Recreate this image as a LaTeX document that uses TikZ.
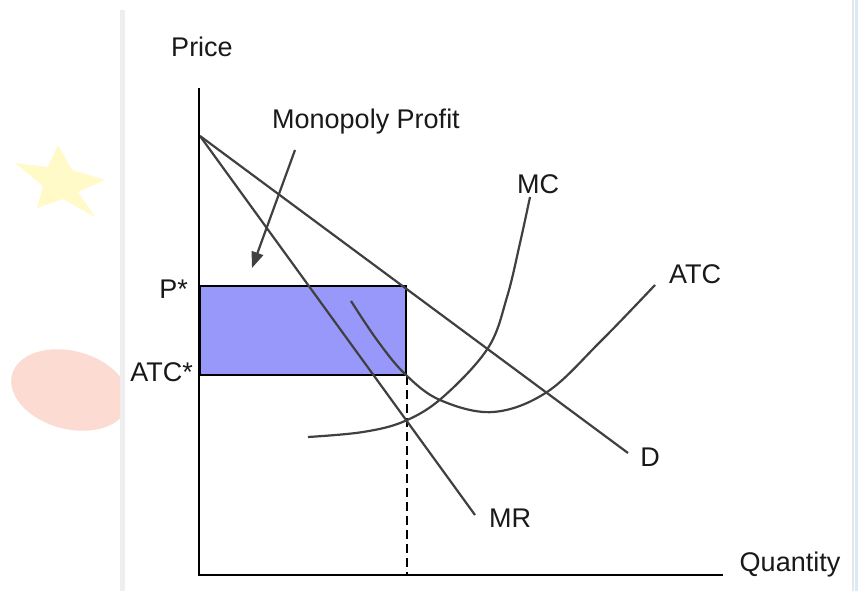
\documentclass[tikz,border=0pt]{standalone}
\usepackage{fontspec}
\setmainfont{Liberation Sans}
\usetikzlibrary{arrows.meta,positioning}

\definecolor{profitblue}{RGB}{152,152,250}
\definecolor{staryellow}{RGB}{255,250,200}
\definecolor{blush}{RGB}{252,219,210}
\definecolor{stripgray}{RGB}{238,238,238}
\definecolor{edgeblue}{RGB}{214,234,248}

\begin{document}
\begin{tikzpicture}[
    x=1pt,
    y=-1pt,
    font=\fontsize{27}{31}\selectfont,
    axis/.style={
        draw=black,
        line width=2.2pt
    },
    curve/.style={
        draw=black!75,
        line width=2.2pt
    },
    lbl/.style={
        inner sep=0pt,
        text=black!90
    },
    profit/.style={
        draw=black,
        line width=2pt,
        fill=profitblue,
        inner sep=0pt,
        anchor=north west
    },
    guide/.style={
        draw=black,
        line width=1.8pt,
        dash pattern=on 9pt off 5pt
    },
    pointer/.style={
        -{Triangle[length=16pt,width=12pt]},
        draw=black!75,
        line width=2.2pt
    }
]

% Page and background decoration
\useasboundingbox (0,0) rectangle (858,591);
\fill[white] (0,0) rectangle (858,591);
\fill[staryellow]
    (58,145) -- (72,170) -- (105,180) -- (78,192) -- (95,217)
    -- (63,199) -- (37,208) -- (43,186) -- (15,163) -- (48,167) -- cycle;
\begin{scope}
    \clip (0,300) rectangle (120,480);
    \fill[blush, rotate around={-15:(70,390)}]
        (70,390) ellipse [x radius=60, y radius=39];
\end{scope}
\fill[stripgray] (120,10) rectangle (125,591);
\fill[black!10] (852,0) rectangle (854,591);
\fill[edgeblue] (855,0) rectangle (858,591);

% Profit rectangle
\node[profit, minimum width=206pt, minimum height=89pt] (profit) at (199,285) {};
\coordinate (O) at (199,575);
\draw[guide] (profit.south east) -- (profit.south east |- O);

% Demand and marginal revenue
\coordinate (A) at (200,136);
\coordinate (Dend) at (628,453);
\coordinate (MRend) at (475,515);
\draw[curve] (A) -- (Dend);
\draw[curve] (A) -- (MRend);

% Cost curves
\draw[curve] plot[smooth, tension=0.6] coordinates {
    (308,437) (363,432) (405,421) (443,397) (488,348)
    (507,297) (520,243) (530,197)};
\draw[curve] plot[smooth, tension=0.6] coordinates {
    (351,301) (377,340) (405,374) (440,400) (493,412)
    (547,392) (600,342) (655,285)};

% Axes
\coordinate (ytop) at (199,88);
\coordinate (xend) at (723,575);
\draw[axis] (ytop) -- (O) -- (xend);

% Labels
\node[lbl] (price) at (202,47) {Price};
\node[lbl] (quantity) at (790,565) {Quantity};
\node[lbl, anchor=east] (pstar) at (188,289) {P*};
\node[lbl, anchor=east] (atcstar) at (193,372) {ATC*};
\node[lbl] (monoprofit) at (366,122) {Monopoly Profit};
\node[lbl] (mc) at (538,184) {MC};
\node[lbl] (atc) at (695,274) {ATC};
\node[lbl] (d) at (650,457) {D};
\node[lbl] (mr) at (510,518) {MR};

% Pointer to the profit area
\coordinate (tail) at (295,150);
\coordinate (tip) at (252,268);
\draw[pointer] (tail) -- (tip);

\end{tikzpicture}
\end{document}
